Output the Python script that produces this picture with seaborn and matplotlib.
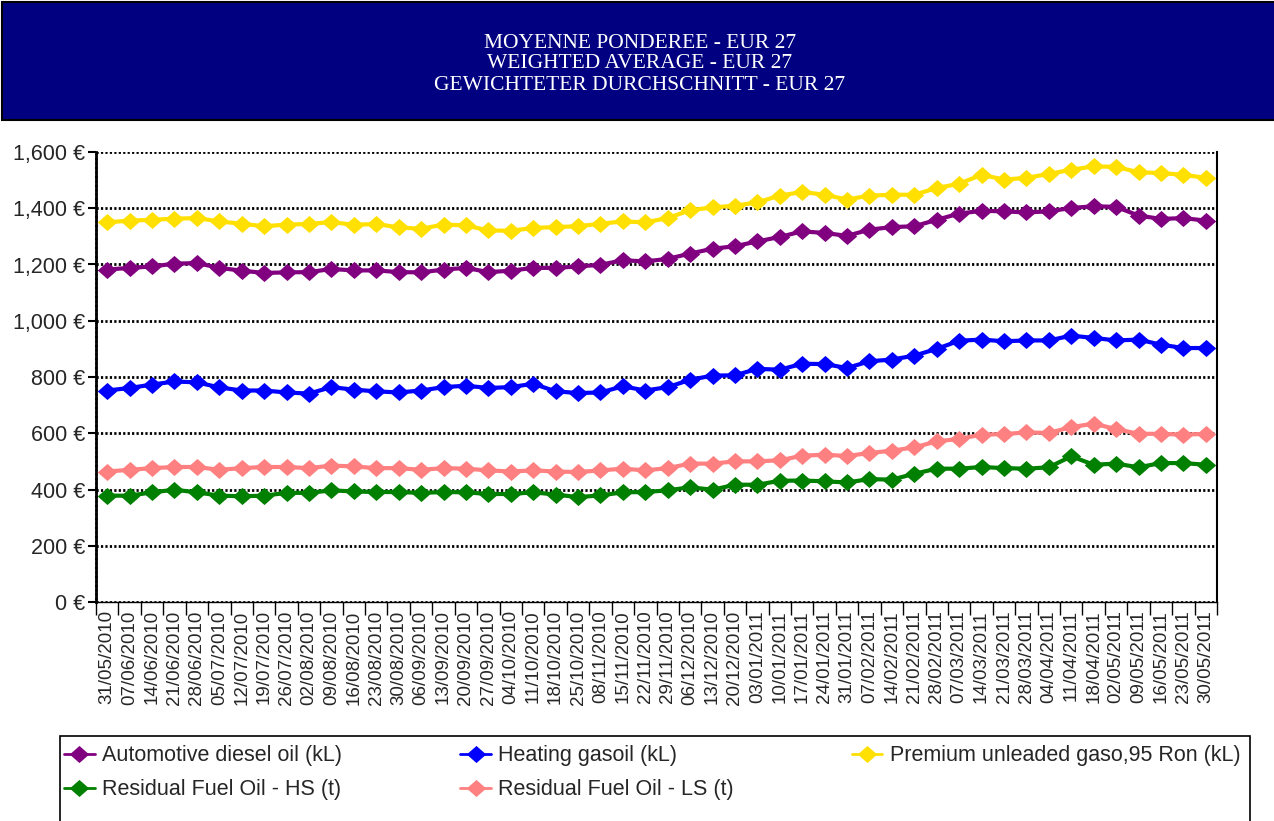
import numpy as np
import pandas as pd
import matplotlib
matplotlib.use("Agg")
import matplotlib.pyplot as plt
from matplotlib.patches import Rectangle
from matplotlib.lines import Line2D
from matplotlib.path import Path
import seaborn as sns

# ---------------- data ----------------
dates = ["31/05/2010", "07/06/2010", "14/06/2010", "21/06/2010", "28/06/2010",
         "05/07/2010", "12/07/2010", "19/07/2010", "26/07/2010", "02/08/2010",
         "09/08/2010", "16/08/2010", "23/08/2010", "30/08/2010", "06/09/2010",
         "13/09/2010", "20/09/2010", "27/09/2010", "04/10/2010", "11/10/2010",
         "18/10/2010", "25/10/2010", "08/11/2010", "15/11/2010", "22/11/2010",
         "29/11/2010", "06/12/2010", "13/12/2010", "20/12/2010", "03/01/2011",
         "10/01/2011", "17/01/2011", "24/01/2011", "31/01/2011", "07/02/2011",
         "14/02/2011", "21/02/2011", "28/02/2011", "07/03/2011", "14/03/2011",
         "21/03/2011", "28/03/2011", "04/04/2011", "11/04/2011", "18/04/2011",
         "02/05/2011", "09/05/2011", "16/05/2011", "23/05/2011", "30/05/2011"]

diesel = [1182, 1188, 1193, 1203, 1205, 1188, 1178, 1170, 1172, 1173,
          1184, 1179, 1179, 1173, 1172, 1182, 1188, 1173, 1178, 1188,
          1188, 1193, 1199, 1215, 1211, 1220, 1239, 1256, 1265, 1282,
          1298, 1318, 1312, 1302, 1324, 1333, 1336, 1359, 1381, 1391,
          1389, 1385, 1389, 1401, 1407, 1405, 1374, 1362, 1365, 1356]

heating = [752, 761, 773, 784, 781, 763, 752, 752, 745, 741,
           764, 755, 749, 745, 752, 764, 769, 761, 764, 776,
           749, 743, 745, 767, 752, 764, 790, 805, 806, 829,
           826, 847, 846, 832, 856, 862, 876, 900, 929, 933,
           927, 930, 930, 947, 939, 930, 933, 915, 903, 903]

premium = [1350, 1356, 1359, 1363, 1365, 1353, 1345, 1336, 1342, 1344,
           1351, 1341, 1344, 1332, 1327, 1342, 1339, 1321, 1320, 1330,
           1333, 1336, 1345, 1353, 1350, 1365, 1393, 1403, 1409, 1421,
           1445, 1458, 1448, 1431, 1445, 1448, 1448, 1472, 1487, 1519,
           1502, 1508, 1522, 1537, 1549, 1547, 1528, 1525, 1519, 1508]

fuel_hs = [378, 378, 390, 399, 390, 378, 376, 378, 388, 388,
           397, 393, 391, 391, 388, 391, 390, 384, 384, 390,
           382, 373, 379, 390, 391, 397, 408, 399, 417, 417,
           431, 432, 429, 425, 437, 435, 456, 474, 474, 480,
           476, 474, 479, 518, 488, 492, 479, 494, 494, 488]

fuel_ls = [464, 470, 476, 480, 480, 470, 476, 480, 480, 476,
           485, 482, 476, 476, 470, 476, 474, 468, 464, 468,
           464, 462, 468, 474, 468, 476, 492, 492, 500, 500,
           504, 520, 524, 519, 530, 538, 550, 571, 580, 595,
           597, 603, 601, 622, 634, 615, 598, 598, 595, 598]

series_names = ["Automotive diesel oil (kL)", "Heating gasoil (kL)",
                "Premium unleaded gaso,95 Ron (kL)",
                "Residual Fuel Oil - HS (t)", "Residual Fuel Oil - LS (t)"]
series_values = [diesel, heating, premium, fuel_hs, fuel_ls]
series_colors = ["#800080", "#0000FF", "#FFE000", "#008000", "#FF8080"]

title_lines = ["MOYENNE PONDEREE - EUR 27", "WEIGHTED AVERAGE - EUR 27",
               "GEWICHTETER DURCHSCHNITT - EUR 27"]
y_ticks = [0, 200, 400, 600, 800, 1000, 1200, 1400, 1600]

# ---------------- frame ----------------
sns.set_style("white")
plt.rcParams["font.family"] = ["Liberation Sans", "DejaVu Sans"]

W, H = 1274, 821
fig = plt.figure(figsize=(W / 100, H / 100), dpi=100)


def fx(px):
    return px / W


def fy(py):
    return 1 - py / H


# Title banner
fig.patches.append(Rectangle((fx(2), fy(120)), fx(1290) - fx(2), fy(2) - fy(120),
                             transform=fig.transFigure, facecolor="#000080",
                             edgecolor="black", linewidth=1.5, zorder=0))
for txt, ypx in zip(title_lines, [43, 64, 85]):
    fig.text(fx(640), fy(ypx), txt, color="white", ha="center", va="center",
             fontsize=15.5, family=["Liberation Serif", "DejaVu Serif"])

# Plot axes
left, right, top, bottom = 96, 1217, 152, 602
ax = fig.add_axes([fx(left), fy(bottom), fx(right) - fx(left), fy(top) - fy(bottom)])

n = len(dates)
rows = []
for name, vals in zip(series_names, series_values):
    for i, v in enumerate(vals):
        rows.append({"idx": i, "value": v, "series": name})
df = pd.DataFrame(rows)

diamond = Path([(-1.0, 0.0), (0.0, 0.88), (1.0, 0.0), (0.0, -0.88), (-1.0, 0.0)],
               [Path.MOVETO, Path.LINETO, Path.LINETO, Path.LINETO, Path.CLOSEPOLY])

sns.lineplot(data=df, x="idx", y="value", hue="series", hue_order=series_names,
             palette=series_colors, marker=diamond, markersize=14,
             markeredgewidth=0, linewidth=3, ax=ax, legend=False, zorder=3)

ax.set_xlim(-0.5, n - 0.5)
ax.set_ylim(0, 1600)
ax.set_xlabel("")
ax.set_ylabel("")

ax.set_yticks(y_ticks)
ax.set_yticklabels([f"{v:,} €" for v in y_ticks], fontsize=15.5)
ax.set_xticks(np.arange(n))
ax.set_xticklabels(dates, rotation=90, fontsize=13.5)
ax.set_xticks(np.arange(n + 1) - 0.5, minor=True)
ax.tick_params(axis="x", which="major", length=0, pad=6)
ax.tick_params(axis="x", which="minor", length=9, width=1, color="black", direction="out")
ax.tick_params(axis="y", which="major", length=6, width=1.5, color="black",
               direction="out", pad=2)
ax.xaxis.set_ticks_position("bottom")
ax.yaxis.set_ticks_position("left")

ax.grid(False)
for v in y_ticks:
    ax.axhline(v, color="black", linewidth=2.0, linestyle=(0, (0.8, 0.8)), zorder=1)

ax.spines["top"].set_visible(False)
ax.spines["left"].set_color("black")
ax.spines["left"].set_linewidth(2.0)
ax.spines["left"].set_linestyle((0, (0.8, 0.8)))
ax.spines["right"].set_color("black")
ax.spines["right"].set_linewidth(1.5)
ax.spines["bottom"].set_color("black")
ax.spines["bottom"].set_linewidth(1.0)

# Legend box and entries (row-major order as in the reference)
fig.patches.append(Rectangle((fx(60), fy(830)), fx(1250) - fx(60), fy(736) - fy(830),
                             transform=fig.transFigure, facecolor="white",
                             edgecolor="black", linewidth=1.2, zorder=0))
handles = [Line2D([0], [0], color=c, linewidth=2, marker=diamond, markersize=14,
                  markeredgewidth=0) for c in series_colors]
order = [0, 3, 1, 4, 2]
fig.legend([handles[i] for i in order], [series_names[i] for i in order],
           ncol=3, loc="upper left",
           bbox_to_anchor=(fx(59), fy(740)), frameon=False, fontsize=15.5,
           handlelength=1.4, handletextpad=0.35, columnspacing=5.5,
           labelspacing=0.6, borderaxespad=0, borderpad=0.25)

fig.savefig("out.png", dpi=100)
